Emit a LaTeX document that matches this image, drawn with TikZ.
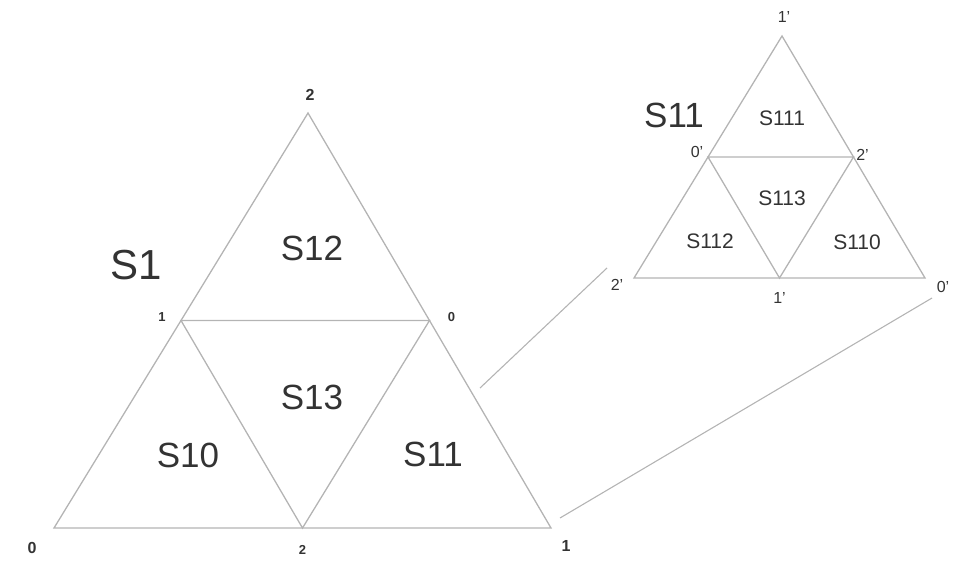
\documentclass[tikz,border=0pt]{standalone}
\usepackage{fontspec}
\setmainfont{Liberation Sans}
\usetikzlibrary{calc,positioning}
\definecolor{edgegray}{HTML}{B4B4B4}
\definecolor{labgray}{HTML}{333333}

\begin{document}
\begin{tikzpicture}[
    x=1pt, y=-1pt,
    edge/.style={draw=edgegray, line width=1.3pt},
    link/.style={draw=edgegray, line width=1.1pt},
    vlab/.style={text=labgray, inner sep=0pt, font=\fontsize{16}{16}\selectfont\bfseries},
    mlab/.style={vlab, font=\fontsize{13}{13}\selectfont\bfseries},
    plab/.style={text=labgray, inner sep=0pt, font=\fontsize{16}{16}\selectfont},
    reg/.style={text=labgray, inner sep=0pt, font=\fontsize{35}{35}\selectfont},
    sreg/.style={text=labgray, inner sep=0pt, font=\fontsize{21}{21}\selectfont},
    tri/.style={text=labgray, inner sep=0pt, font=\fontsize{42}{42}\selectfont}
]
\useasboundingbox (0,0) rectangle (971,562);

% big triangle S1
\coordinate (a0) at (54,528);
\coordinate (a1) at (551,528);
\coordinate (a2) at (308,113);
\coordinate (m01) at ($(a0)!0.5!(a1)$);
\coordinate (m02) at ($(a0)!0.5!(a2)$);
\coordinate (m12) at ($(a1)!0.5!(a2)$);

\draw[edge] (a0) -- (a1) -- (a2) -- cycle;
\draw[edge] (m02) -- (m12) -- (m01) -- cycle;

\node[tri] (s1) at (136,265) {S1};
\node[reg] (s12) at (312,248) {S12};
\node[reg] (s13) at (312,397) {S13};
\node[reg] (s10) at (188,455) {S10};
\node[reg] (s11) at (433,454) {S11};

\node[vlab] (la0) at ($(a0)+(-22,20)$) {0};
\node[vlab] (la1) at ($(a1)+(15,18)$) {1};
\node[vlab] (la2) at ($(a2)+(2,-18)$) {2};
\node[mlab] (lm01) at ($(m01)+(0,22)$) {2};
\node[mlab] (lm02) at ($(m02)+(-19,-3)$) {1};
\node[mlab] (lm12) at ($(m12)+(22,-3)$) {0};

% small triangle S11
\coordinate (b0) at (925,278);
\coordinate (b1) at (782,36);
\coordinate (b2) at (634,278);
\coordinate (n01) at ($(b0)!0.5!(b1)$);
\coordinate (n02) at ($(b0)!0.5!(b2)$);
\coordinate (n12) at ($(b1)!0.5!(b2)$);

\draw[edge] (b0) -- (b1) -- (b2) -- cycle;
\draw[edge] (n12) -- (n01) -- (n02) -- cycle;

\node[tri, font=\fontsize{35}{35}\selectfont] (t11) at (674,115) {S11};
\node[sreg] (s111) at (782,118) {S111};
\node[sreg] (s113) at (782,198) {S113};
\node[sreg] (s112) at (710,241) {S112};
\node[sreg] (s110) at (857,242) {S110};

\node[plab] (lb1) at ($(b1)+(2,-19)$) {1’};
\node[plab] (lb2) at ($(b2)+(-17,7)$) {2’};
\node[plab] (lb0) at ($(b0)+(18,9)$) {0’};
\node[plab] (ln12) at ($(n12)+(-11,-5)$) {0’};
\node[plab] (ln01) at ($(n01)+(9,-2)$) {2’};
\node[plab] (ln02) at ($(n02)+(0,20)$) {1’};

% zoom lines
\coordinate (z1a) at (480,388);
\coordinate (z1b) at (607,268);
\coordinate (z2a) at (560,518);
\coordinate (z2b) at (932,298);
\draw[link] (z1a) -- (z1b);
\draw[link] (z2a) -- (z2b);
\end{tikzpicture}
\end{document}
